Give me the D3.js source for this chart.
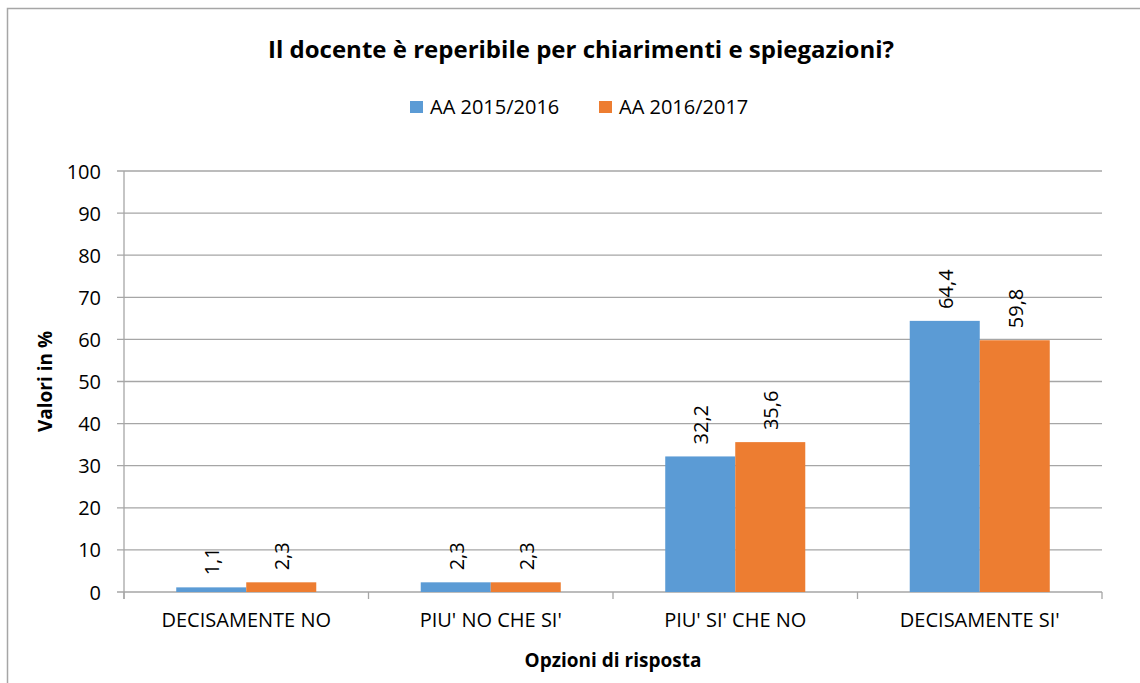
<!DOCTYPE html>
<html>
<head>
<meta charset="utf-8">
<script src="https://cdn.jsdelivr.net/npm/d3@7"></script>
<style>
  body { margin: 0; background: #fff; }
  svg text { font-family: "Open Sans", "Noto Sans", sans-serif; fill: #000; }
</style>
</head>
<body>
<div id="chart"></div>
<script>
// data
const categories = ["DECISAMENTE NO", "PIU' NO CHE SI'", "PIU' SI' CHE NO", "DECISAMENTE SI'"];
const seriesNames = ["AA 2015/2016", "AA 2016/2017"];
const values2015 = [1.1, 2.3, 32.2, 64.4];
const values2016 = [2.3, 2.3, 35.6, 59.8];
const yTicks = [0, 10, 20, 30, 40, 50, 60, 70, 80, 90, 100];
const colors = ["#5b9bd5", "#ed7d31"];

const W = 1140, H = 683;
const margin = { left: 124, right: 38, top: 171, bottom: 91 };

const svg = d3.select('#chart').append('svg')
    .attr('width', W).attr('height', H);

// chart frame (only top and left edges show in the crop)
svg.append('rect')
    .attr('x', 7.5).attr('y', 8.5)
    .attr('width', W + 10).attr('height', H + 10)
    .attr('fill', 'none').attr('stroke', '#a6a6a6').attr('stroke-width', 1.5);

const x0 = d3.scaleBand().domain(categories)
    .range([margin.left, W - margin.right]).paddingInner(0).paddingOuter(0);
const x1 = d3.scaleBand().domain(seriesNames)
    .range([0, x0.bandwidth()]).paddingOuter(0.746).paddingInner(0);
const y = d3.scaleLinear().domain([0, 100]).range([H - margin.bottom, margin.top]);

// gridlines
svg.append('g').selectAll('line').data(yTicks).join('line')
    .attr('x1', margin.left - 7).attr('x2', W - margin.right)
    .attr('y1', d => y(d)).attr('y2', d => y(d))
    .attr('stroke', '#a6a6a6').attr('stroke-width', 1.3);

// y axis
const yAxis = svg.append('g')
    .attr('transform', `translate(${margin.left},0)`)
    .call(d3.axisLeft(y).tickValues(yTicks).tickSize(0).tickPadding(23));
yAxis.select('.domain').attr('stroke', '#a6a6a6').attr('stroke-width', 1.3)
    .attr('d', `M0,${y(100)}V${y(0) + 7}`);
yAxis.selectAll('text').attr('font-size', 20).attr('dy', '0.35em');

// x axis
const xAxis = svg.append('g')
    .attr('transform', `translate(0,${y(0)})`)
    .call(d3.axisBottom(x0).tickSize(0).tickPadding(21));
xAxis.select('.domain').remove();
xAxis.selectAll('text').attr('font-size', 20);
const bounds = categories.map(c => x0(c)).concat([x0.range()[1]]);
svg.append('g').selectAll('line').data(bounds).join('line')
    .attr('x1', d => d).attr('x2', d => d)
    .attr('y1', y(0)).attr('y2', y(0) + 7)
    .attr('stroke', '#a6a6a6').attr('stroke-width', 1.3);

// bars
const rows = categories.map((c, i) => ({ cat: c, vals: [values2015[i], values2016[i]] }));
const groups = svg.append('g').selectAll('g').data(rows).join('g')
    .attr('transform', d => `translate(${x0(d.cat)},0)`);

groups.selectAll('rect')
    .data(d => d.vals.map((v, j) => ({ key: seriesNames[j], v, j })))
    .join('rect')
    .attr('x', d => x1(d.key))
    .attr('width', x1.bandwidth())
    .attr('y', d => y(d.v))
    .attr('height', d => y(0) - y(d.v))
    .attr('fill', d => colors[d.j]);

groups.selectAll('text.lbl')
    .data(d => d.vals.map((v, j) => ({ key: seriesNames[j], v, j })))
    .join('text')
    .attr('class', 'lbl')
    .attr('transform', d => `translate(${x1(d.key) + x1.bandwidth() / 2 + 8},${y(d.v) - 12}) rotate(-90)`)
    .attr('font-size', 20)
    .attr('text-anchor', 'start')
    .text(d => d.v.toFixed(1).replace('.', ','));

// title
svg.append('text')
    .attr('x', 581).attr('y', 58)
    .attr('text-anchor', 'middle')
    .attr('font-size', 23).attr('font-weight', 700)
    .attr('textLength', 626).attr('lengthAdjust', 'spacingAndGlyphs')
    .text('Il docente è reperibile per chiarimenti e spiegazioni?');

// legend
const legendX = [410, 599];
const lg = svg.append('g').selectAll('g').data(seriesNames).join('g')
    .attr('transform', (d, i) => `translate(${legendX[i]},101)`);
lg.append('rect').attr('width', 13).attr('height', 12).attr('fill', (d, i) => colors[i]);
lg.append('text').attr('x', 20).attr('y', 13).attr('font-size', 20).text(d => d);

// axis titles
svg.append('text')
    .attr('transform', `translate(52,${(y(0) + y(100)) / 2}) rotate(-90)`)
    .attr('text-anchor', 'middle')
    .attr('font-size', 19).attr('font-weight', 700)
    .text('Valori in %');

svg.append('text')
    .attr('x', (margin.left + W - margin.right) / 2).attr('y', 667)
    .attr('text-anchor', 'middle')
    .attr('font-size', 19).attr('font-weight', 700)
    .text('Opzioni di risposta');
</script>
</body>
</html>
